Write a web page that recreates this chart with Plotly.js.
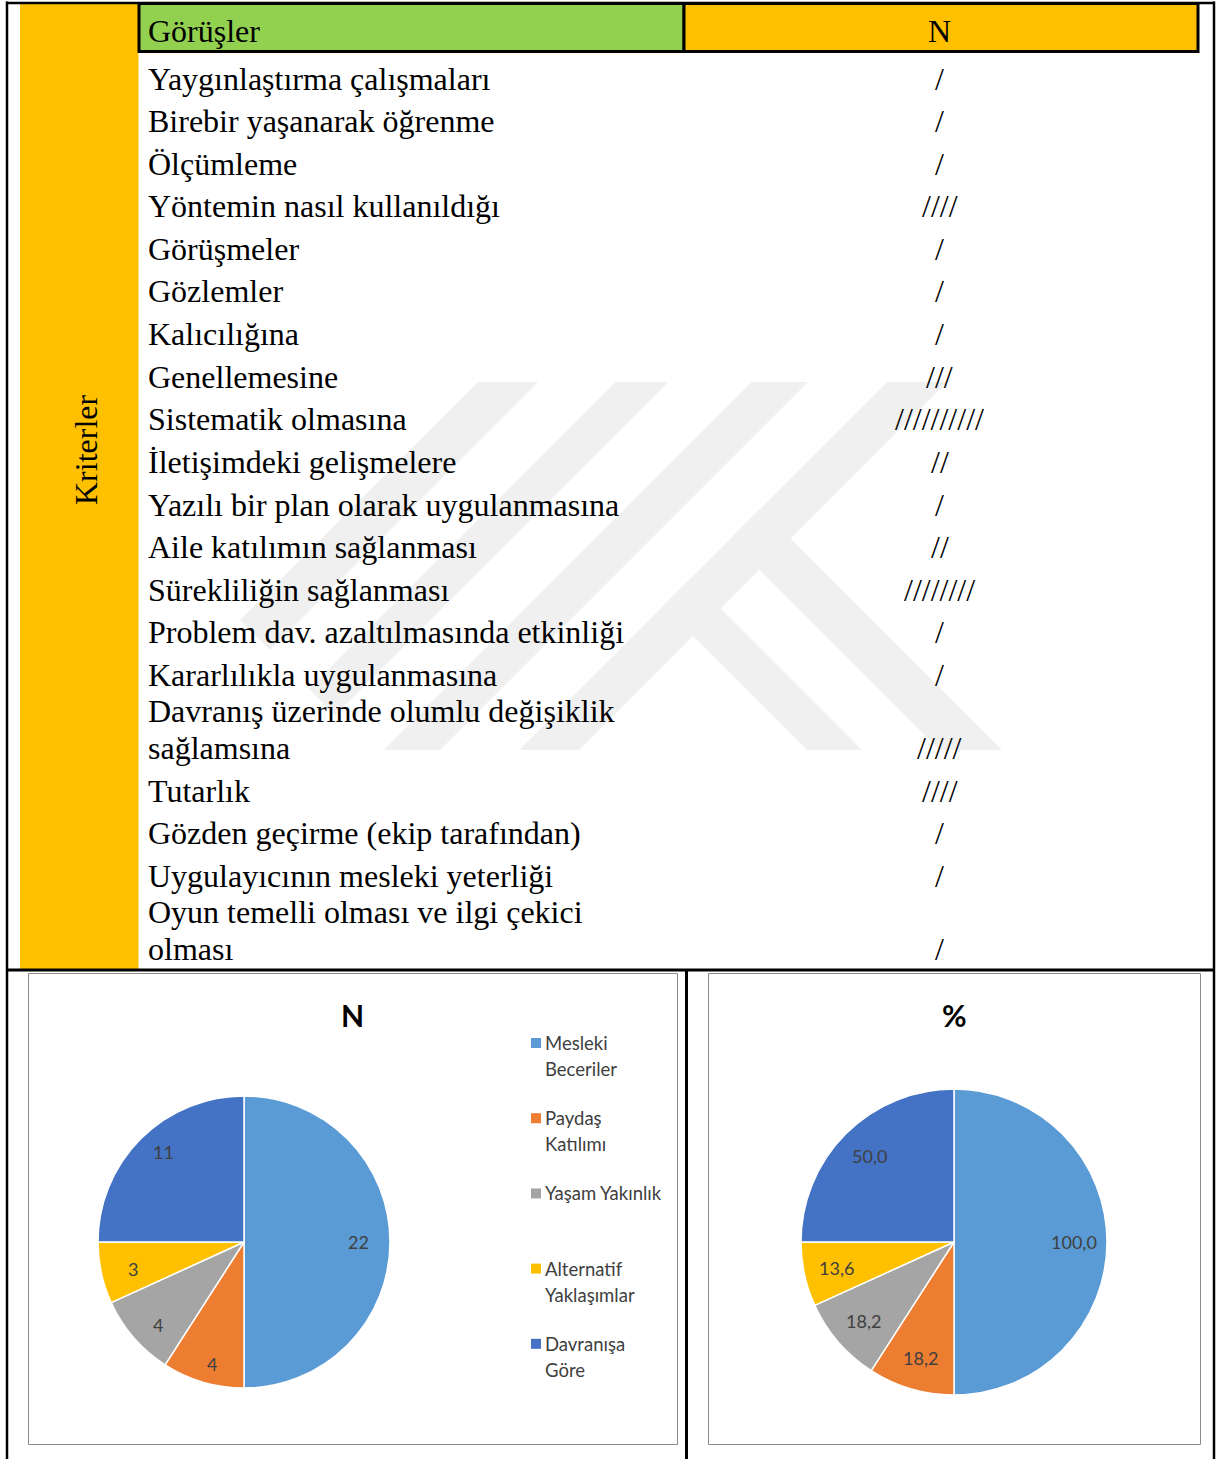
<!DOCTYPE html>
<html><head><meta charset="utf-8">
<script src="https://cdn.plot.ly/plotly-3.0.1.min.js"></script>
<style>html,body{margin:0;padding:0;background:#fff;} #chart{width:1217px;height:1459px;}</style>
</head><body><div id="chart"></div>
<script>
// ---------------- data ----------------
const headerLabels = ['Görüşler', 'N'];
const sideLabel = 'Kriterler';
const criteria = [
  'Yaygınlaştırma çalışmaları',
  'Birebir yaşanarak öğrenme',
  'Ölçümleme',
  'Yöntemin nasıl kullanıldığı',
  'Görüşmeler',
  'Gözlemler',
  'Kalıcılığına',
  'Genellemesine',
  'Sistematik olmasına',
  'İletişimdeki gelişmelere',
  'Yazılı bir plan olarak uygulanmasına',
  'Aile katılımın sağlanması',
  'Sürekliliğin sağlanması',
  'Problem dav. azaltılmasında etkinliği',
  'Kararlılıkla uygulanmasına',
  'Davranış üzerinde olumlu değişiklik\nsağlamsına',
  'Tutarlık',
  'Gözden geçirme (ekip tarafından)',
  'Uygulayıcının mesleki yeterliği',
  'Oyun temelli olması ve ilgi çekici\nolması'
];
const tallyCounts = [1, 1, 1, 4, 1, 1, 1, 3, 10, 2, 1, 2, 8, 1, 1, 5, 4, 1, 1, 1];

const pieCategories = ['Mesleki Beceriler', 'Paydaş Katılımı', 'Yaşam Yakınlık', 'Alternatif Yaklaşımlar', 'Davranışa Göre'];
const legendLabels = ['Mesleki\nBeceriler', 'Paydaş\nKatılımı', 'Yaşam Yakınlık', 'Alternatif\nYaklaşımlar', 'Davranışa\nGöre'];
const pieCounts = [22, 4, 4, 3, 11];
const piePercents = [100.0, 18.2, 18.2, 13.6, 50.0];
const pieTitles = ['N', '%'];

// ---------------- style ----------------
const pieColors = ['#5B9BD5', '#ED7D31', '#A5A5A5', '#FFC000', '#4472C4'];
const W = 1217, H = 1459;
const X = px => px / W;
const Y = py => 1 - py / H;
const SERIF = 'Liberation Serif, Times New Roman, serif';
const SANS = 'Lato, Carlito, Calibri, sans-serif';
const ORANGE = '#FFC000', GREEN = '#92D050', WM = '#F0F0F0';

const shapes = [];
const annotations = [];

function rect(x0, y0, x1, y1, fill, lc, lw, layer) {
  shapes.push({type: 'rect', xref: 'paper', yref: 'paper', x0: X(x0), x1: X(x1), y0: Y(y1), y1: Y(y0),
    fillcolor: fill || 'rgba(0,0,0,0)', line: {color: lc || 'rgba(0,0,0,0)', width: lw || 0}, layer: layer || 'below'});
}
function seg(x0, y0, x1, y1, color, width) {
  shapes.push({type: 'line', xref: 'paper', yref: 'paper', x0: X(x0), y0: Y(y0), x1: X(x1), y1: Y(y1),
    line: {color: color, width: width}, layer: 'above'});
}
function poly(pts, fill) {
  const d = pts.map((p, i) => (i ? 'L' : 'M') + X(p[0]) + ',' + Y(p[1])).join(' ') + ' Z';
  shapes.push({type: 'path', xref: 'paper', yref: 'paper', path: d, fillcolor: fill, line: {width: 0}, layer: 'below'});
}
function txt(str, x, y, opts) {
  annotations.push(Object.assign({text: str, xref: 'paper', yref: 'paper', x: X(x), y: Y(y), showarrow: false,
    xanchor: 'left', yanchor: 'middle', font: {family: SERIF, size: 32, color: '#000'}}, opts || {}));
}

// watermark (faint logo): "/" stripes between x+y=a and x+y=b, cut at bottom-left by x-y=c
const WM_TOP = 382, WM_BOT = 750, WM_CUT = -380;
function edgeEnd(s) {
  const yc = (s - WM_CUT) / 2;
  return yc >= WM_BOT ? [s - WM_BOT, WM_BOT] : [(s + WM_CUT) / 2, yc];
}
[[478, 60], [616, 52], [752, 56], [887, 60]].forEach(([t, w]) => {
  const a = t + WM_TOP, b = t + w + WM_TOP;
  poly([[a - WM_TOP, WM_TOP], [b - WM_TOP, WM_TOP], edgeEnd(b), edgeEnd(a)], WM);
});
poly([[760.5, 508.5], [1002, 750], [940, 750], [729.5, 539.5]], WM);
poly([[690.5, 578.5], [862, 750], [807, 750], [663, 606]], WM);

// left orange column
rect(20, 3, 138.5, 969, ORANGE);
// header cells
rect(139, 3.5, 684, 51.5, GREEN, '#000', 3);
rect(684, 3.5, 1198, 51.5, ORANGE, '#000', 3);

// outer table lines
seg(7, 1.5, 7, 1459, '#000', 2.5);
seg(6, 3, 1215, 3, '#000', 2.5);
seg(1214, 1.5, 1214, 1459, '#000', 2.5);
seg(6, 970, 1215, 970, '#000', 3);
seg(686.5, 970, 686.5, 1459, '#000', 3);

// chart boxes
rect(28.5, 973.5, 677.5, 1444.5, null, '#8C8C8C', 1, 'above');
rect(708.5, 973.5, 1200.5, 1444.5, null, '#8C8C8C', 1, 'above');

// header text
const TEXT_DY = -1.5;
txt(headerLabels[0], 146, 33 + TEXT_DY);
txt(headerLabels[1], 940, 33 + TEXT_DY, {xanchor: 'center'});
txt(sideLabel, 86, 450, {xanchor: 'center', textangle: -90});

// rows
const TEXT_X = 146, TALLY_X = 940, FIRST_Y = 80, STEP = 42.6, WRAP_STEP = 36.5;
let yCur = FIRST_Y - STEP;
criteria.forEach((c, i) => {
  const lines = c.split('\n');
  const step = lines.length > 1 ? WRAP_STEP : STEP;
  lines.forEach(ln => {
    yCur += step;
    txt(ln, TEXT_X, yCur + TEXT_DY);
  });
  txt('/'.repeat(tallyCounts[i]), TALLY_X, yCur + TEXT_DY, {xanchor: 'center'});
});

// pies
const pies = [
  {cx: 244, cy: 1242, r: 146, lrx: 114, lry: 127, values: pieCounts, fmt: v => String(v), title: pieTitles[0], tx: 352},
  {cx: 954, cy: 1242, r: 153, lrx: 120, lry: 121, values: piePercents, fmt: v => v.toFixed(1).replace('.', ','), title: pieTitles[1], tx: 954}
];
const traces = pies.map(p => ({
  type: 'pie', values: p.values, labels: pieCategories, sort: false, direction: 'clockwise', rotation: 0,
  marker: {colors: pieColors, line: {color: '#ffffff', width: 1.5}},
  textinfo: 'none', hoverinfo: 'label+value', showlegend: false,
  domain: {x: [X(p.cx - p.r), X(p.cx + p.r)], y: [Y(p.cy + p.r), Y(p.cy - p.r)]}
}));

pies.forEach(p => {
  const total = p.values.reduce((a, b) => a + b, 0);
  let cum = 0;
  p.values.forEach(v => {
    const th = 2 * Math.PI * (cum + v / 2) / total;
    cum += v;
    txt(p.fmt(v), p.cx + p.lrx * Math.sin(th), p.cy - p.lry * Math.cos(th),
      {xanchor: 'center', font: {family: SANS, size: 18, color: '#404040'}});
  });
  txt(p.title, p.tx, 1015, {xanchor: 'center', font: {family: SANS, size: 30, color: '#000', weight: 'bold'}});
});

// legend for the N pie
const LEG_X = 531, LEG_Y = 1043, LEG_STEP = 75.2, LEG_LINE = 26;
legendLabels.forEach((lab, i) => {
  const y0 = LEG_Y + i * LEG_STEP;
  rect(LEG_X, y0 - 5, LEG_X + 10, y0 + 5, pieColors[i], null, 0, 'above');
  lab.split('\n').forEach((ln, j) => {
    txt(ln, LEG_X + 12, y0 + j * LEG_LINE, {font: {family: SANS, size: 18.5, color: '#404040'}});
  });
});

Plotly.newPlot('chart', traces, {
  width: W, height: H, margin: {l: 0, r: 0, t: 0, b: 0},
  paper_bgcolor: '#ffffff', plot_bgcolor: '#ffffff', showlegend: false,
  shapes: shapes, annotations: annotations
}, {displayModeBar: false, staticPlot: true});
</script>
</body></html>
